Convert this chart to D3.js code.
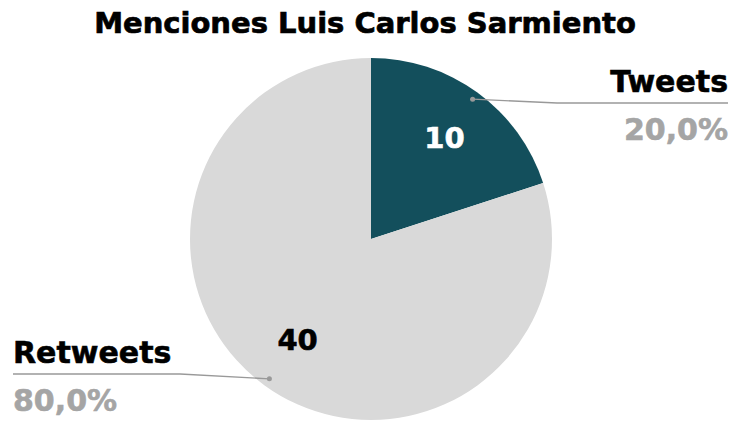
<!DOCTYPE html>
<html>
<head>
<meta charset="utf-8">
<script src="https://cdn.jsdelivr.net/npm/d3@7"></script>
<style>
  body { margin: 0; background: #fff; }
  text { font-family: "DejaVu Sans", sans-serif; font-weight: bold; }
</style>
</head>
<body>
<div class="canvas"></div>
<script>
const width = 731;
const height = 421;

const title = "Menciones Luis Carlos Sarmiento"
const categories = ["Tweets", "Retweets"]
const values = [10, 40]
const percentLabels = ["20,0%", "80,0%"]
const colors = ["#134f5c", "#d9d9d9"]
const valueColors = ["#ffffff", "#000000"]

const cx = 371, cy = 239, radius = 181

const svg = d3.select(".canvas")
                .append("svg")
                .attr("width", width)
                .attr("height", height)

svg.append("text")
    .attr("x", 365)
    .attr("y", 33)
    .attr("text-anchor", "middle")
    .attr("font-size", 29)
    .attr("fill", "#000")
    .attr("stroke", "#000")
    .attr("stroke-width", 0.7)
    .text(title)

const graph = svg.append("g")
                    .attr("transform", `translate(${cx}, ${cy})`)

const data = categories.map((c, i) => ({name: c, value: values[i], pct: percentLabels[i], i: i}))

const pie = d3.pie().value(d => d.value).sort(null)
const arc = d3.arc().innerRadius(0).outerRadius(radius)
const arcs = pie(data)

graph.selectAll("path")
    .data(arcs)
    .enter()
    .append("path")
    .attr("d", arc)
    .attr("fill", d => colors[d.data.i])

// value labels inside slices
const inner = d3.arc().innerRadius(radius * 0.69).outerRadius(radius * 0.69)
graph.selectAll(".val")
    .data(arcs)
    .enter()
    .append("text")
    .attr("class", "val")
    .attr("transform", d => {
        const [x, y] = inner.centroid(d)
        return `translate(${x}, ${y})`
    })
    .attr("text-anchor", "middle")
    .attr("dy", "0.36em")
    .attr("font-size", 29)
    .attr("fill", d => valueColors[d.data.i])
    .attr("stroke", d => valueColors[d.data.i])
    .attr("stroke-width", 0.6)
    .text(d => d.data.value)

// leader lines and outside labels
const dotArc = d3.arc().innerRadius(radius * 0.955).outerRadius(radius * 0.955)
const labelPos = [
    {bend: [557 - cx, 103 - cy], end: [728 - cx, 103 - cy], anchor: "end"},
    {bend: [180 - cx, 374 - cy], end: [13 - cx, 374 - cy], anchor: "start"}
]

arcs.forEach(d => {
    const p = labelPos[d.data.i]
    const dot = dotArc.centroid(d)
    graph.append("path")
        .attr("d", d3.line()([dot, p.bend, p.end]))
        .attr("fill", "none")
        .attr("stroke", "#999")
        .attr("stroke-width", 1.3)
    graph.append("circle")
        .attr("cx", dot[0])
        .attr("cy", dot[1])
        .attr("r", 2.5)
        .attr("fill", "#999")
    graph.append("text")
        .attr("x", p.end[0])
        .attr("y", p.end[1] - 11)
        .attr("text-anchor", p.anchor)
        .attr("font-size", 30)
        .attr("fill", "#000")
        .attr("stroke", "#000")
        .attr("stroke-width", 0.6)
        .text(d.data.name)
    graph.append("text")
        .attr("x", p.end[0])
        .attr("y", p.end[1] + 37)
        .attr("text-anchor", p.anchor)
        .attr("font-size", 30)
        .attr("fill", "#a5a5a5")
        .attr("stroke", "#a5a5a5")
        .attr("stroke-width", 0.6)
        .text(d.data.pct)
})
</script>
</body>
</html>
